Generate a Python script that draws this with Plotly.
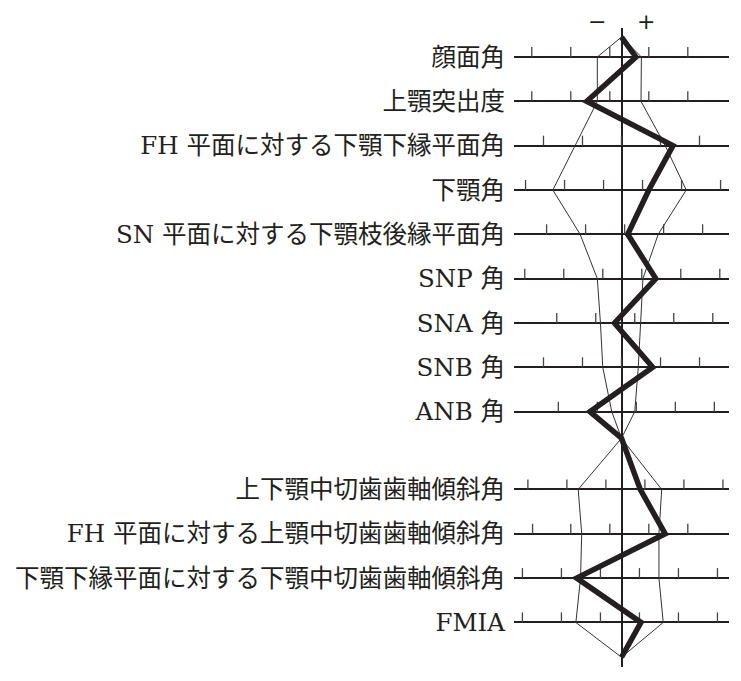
import plotly.graph_objects as go

# row labels, top block and bottom block
labels_upper = [
    "顔面角",
    "上顎突出度",
    "FH 平面に対する下顎下縁平面角",
    "下顎角",
    "SN 平面に対する下顎枝後縁平面角",
    "SNP 角",
    "SNA 角",
    "SNB 角",
    "ANB 角",
]
labels_lower = [
    "上下顎中切歯歯軸傾斜角",
    "FH 平面に対する上顎中切歯歯軸傾斜角",
    "下顎下縁平面に対する下顎中切歯歯軸傾斜角",
    "FMIA",
]

# deviation from the mean (deg): patient, -1SD and +1SD
patient_upper = [1.85, -4.45, 6.6, 3.5, 0.8, 4.4, -0.9, 4.0, -4.05]
patient_lower = [2.4, 5.6, -5.75, 2.5]
sd_low_upper = [-3.1, -3.1, -6.0, -8.8, -5.3, -3.1, -2.7, -2.4, -1.25]
sd_high_upper = [2.55, 2.5, 5.6, 8.3, 4.7, 2.75, 2.45, 2.15, 1.7]
sd_low_lower = [-5.55, -5.1, -5.25, -5.85]
sd_high_lower = [5.15, 4.8, 4.8, 5.35]

# scale ticks on each row (deg from the mean, every 5 deg)
ticks_upper = [
    [-11.5, -6.5, -1.5, 3.5, 8.5],
    [-11.5, -6.5, -1.5, 3.5, 8.5],
    [-10, -5, 0, 5, 10],
    [-12.3, -7.3, -2.3, 2.7, 7.7, 12.7],
    [-9.6, -4.6, 0.4, 5.4, 10.4],
    [-12.4, -7.4, -2.4, 2.6, 7.6, 12.6],
    [-8.3, -3.3, 1.7, 6.7, 11.7],
    [-10, -5, 0, 5, 10],
    [-8.1, -3.1, 1.9, 6.9, 11.9],
]
ticks_lower = [
    [-12, -7, -2, 3, 8, 13],
    [-11.4, -6.5, -1.5, 3.5, 8.5],
    [-12.7, -7.7, -2.7, 2.3, 7.3, 12.3],
    [-12.7, -7.7, -2.7, 2.3, 7.3, 12.3],
]

# layout constants (row units)
GROUP_GAP = 0.755
TOP_APEX = 0.45
MID_JOIN = 0.6
BOTTOM_APEX = 0.785
TICK_H = 0.226
INK = "#231f20"
FONT = "DejaVu Serif, Noto Sans CJK JP"

rows_upper = list(range(len(labels_upper)))
start = rows_upper[-1] + 1 + GROUP_GAP
rows_lower = [start + i for i in range(len(labels_lower))]

ys = [-TOP_APEX] + rows_upper + [rows_upper[-1] + MID_JOIN] + rows_lower + [rows_lower[-1] + BOTTOM_APEX]


def through(upper, lower):
    return [0] + upper + [0] + lower + [0]


fig = go.Figure()

# scale ticks
tx, ty = [], []
for row, vals in zip(rows_upper + rows_lower, ticks_upper + ticks_lower):
    for v in vals:
        tx += [v, v, None]
        ty += [row, row - TICK_H, None]
fig.add_trace(go.Scatter(x=tx, y=ty, mode="lines", line=dict(color="#444", width=1.3),
                         hoverinfo="skip"))

# +-1SD polygon
for upper, lower in [(sd_low_upper, sd_low_lower), (sd_high_upper, sd_high_lower)]:
    fig.add_trace(go.Scatter(x=through(upper, lower), y=ys, mode="lines",
                             line=dict(color="#333", width=1)))

# patient
fig.add_trace(go.Scatter(x=through(patient_upper, patient_lower), y=ys, mode="lines",
                         line=dict(color=INK, width=5.5)))

# signs above the plot (paper coords, so they are not hidden off-range)
for sign, xpos in [("−", -3.2), ("+", 3.2)]:
    fig.add_annotation(x=xpos, xref="x", y=1.0094, yref="paper", yanchor="middle",
                       text=sign, showarrow=False,
                       font=dict(family="DejaVu Sans", size=22, color=INK))

# page body has an 8px margin, so the figure is a bit smaller
fig.update_layout(
    width=733,
    height=673,
    margin=dict(l=506, r=12, t=20, b=14),
    paper_bgcolor="white",
    plot_bgcolor="white",
    showlegend=False,
    xaxis=dict(range=[-13.78, 13.78], showgrid=False, showticklabels=False,
               zeroline=True, zerolinecolor=INK, zerolinewidth=2, fixedrange=True),
    yaxis=dict(range=[13.76, -0.654], tickvals=rows_upper + rows_lower,
               ticktext=labels_upper + labels_lower, ticks="", ticklabelstandoff=8,
               showgrid=True, gridcolor=INK, gridwidth=2, zeroline=False,
               automargin=False, tickfont=dict(family=FONT, size=24.5, color=INK)),
)

fig.write_html("out.html")
